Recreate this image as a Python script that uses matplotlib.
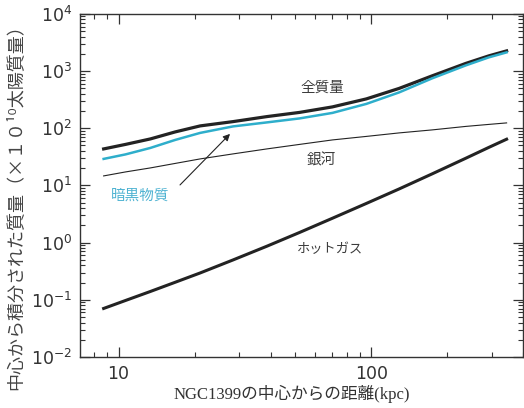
import matplotlib
matplotlib.use("Agg")
import matplotlib.pyplot as plt
from matplotlib.ticker import LogLocator, NullFormatter, FuncFormatter, FixedLocator, LogFormatterSciNotation

# radius (kpc)
radius = [8.73, 10.66, 13.37, 16.76, 21.03, 28.37, 38.6, 52.05, 70.2, 95.6,
          128.9, 173.9, 236.6, 291.5, 343]
total_mass = [43.5, 52.2, 65.1, 86.3, 109.9, 130.6, 159.8, 189.3, 236.3, 326.1,
              497.7, 823, 1362, 1842, 2253]
dark_matter = [29.1, 34.9, 45.3, 62.5, 82.9, 107.7, 126.5, 148.6, 185.5, 266.6,
               423.6, 744.5, 1257, 1734, 2122]
galaxy = [14.67, 17.23, 20.25, 24.27, 29.09, 35.6, 43.5, 52.2, 62.5, 72.0,
          82.9, 93.5, 107.7, 116.7, 124]
hot_gas = [0.0706, 0.0974, 0.140, 0.2028, 0.2948, 0.4977, 0.8643, 1.507, 2.670,
           4.846, 8.688, 15.90, 29.92, 46.2, 64.3]

x_ticks = [10, 100]
y_ticks = [1e-2, 1e-1, 1e0, 1e1, 1e2, 1e3, 1e4]

label_total = "全質量"
label_dm = "暗黒物質"
label_gal = "銀河"
label_gas = "ホットガス"
xlabel = "NGC1399の中心からの距離(kpc)"
ylabel = "中心から積分された質量（×１０¹⁰太陽質量）"

jp = ["Noto Sans CJK JP", "DejaVu Sans"]
jp_serif = ["Liberation Serif", "Noto Sans CJK JP"]

fig = plt.figure(figsize=(5.24, 4.08), dpi=100)
ax = fig.add_axes([0.153, 0.125, 0.846, 0.841])

black = "#232323"
cyan = "#2eaecb"
ax.plot(radius, galaxy, color=black, lw=0.8)
ax.plot(radius, hot_gas, color=black, lw=2.2)
ax.plot(radius, total_mass, color=black, lw=2.3)
ax.plot(radius, dark_matter, color=cyan, lw=1.8)

ax.set_xscale("log")
ax.set_yscale("log")
ax.set_xlim(7.05, 400)
ax.set_ylim(1e-2, 1e4)

ax.yaxis.set_major_locator(FixedLocator(y_ticks))
ax.yaxis.set_major_formatter(LogFormatterSciNotation())
ax.yaxis.set_minor_locator(LogLocator(base=10, subs=range(2, 10), numticks=20))
ax.yaxis.set_minor_formatter(NullFormatter())
ax.xaxis.set_major_locator(FixedLocator(x_ticks))
ax.xaxis.set_minor_formatter(NullFormatter())
ax.xaxis.set_major_formatter(FuncFormatter(lambda v, p: f"{v:g}"))

ax.tick_params(which="both", direction="in", top=True, right=True, colors="#333333",
               labelsize=12.5)
ax.tick_params(which="major", length=7, width=0.9)
ax.tick_params(axis="y", which="major", pad=6)
ax.tick_params(axis="x", which="major", pad=6, labelsize=12.5)
ax.tick_params(which="minor", length=3.5, width=0.8)
for s in ax.spines.values():
    s.set_color("#333333")
    s.set_linewidth(1.0)

text_c = "#3c3c3c"
ax.text(64.1, 508, label_total, family=jp, fontsize=10.5, color=text_c, ha="center", va="center")
ax.text(63.5, 27.9, label_gal, family=jp, fontsize=10.5, color=text_c, ha="center", va="center")
ax.text(68.4, 0.745, label_gas, family=jp, fontsize=9.5, color=text_c, ha="center", va="center")
ax.text(12.2, 6.56, label_dm, family=jp, fontsize=10.5, color="#4fb3d2", ha="center", va="center")
ax.annotate("", xy=(28.1, 86.3), xytext=(17.2, 9.42),
            arrowprops=dict(arrowstyle="-|>", color=black, lw=0.8, mutation_scale=10))

fig.text(292 / 524, 1 - 394 / 408, xlabel, family=jp_serif, fontsize=12,
         color="#333333", ha="center", va="center")
fig.text(15 / 524, 1 - 203 / 408, ylabel, family=jp, fontsize=13,
         color="#444444", ha="center", va="center", rotation=90)

fig.savefig("out.png", dpi=100, facecolor="white")
